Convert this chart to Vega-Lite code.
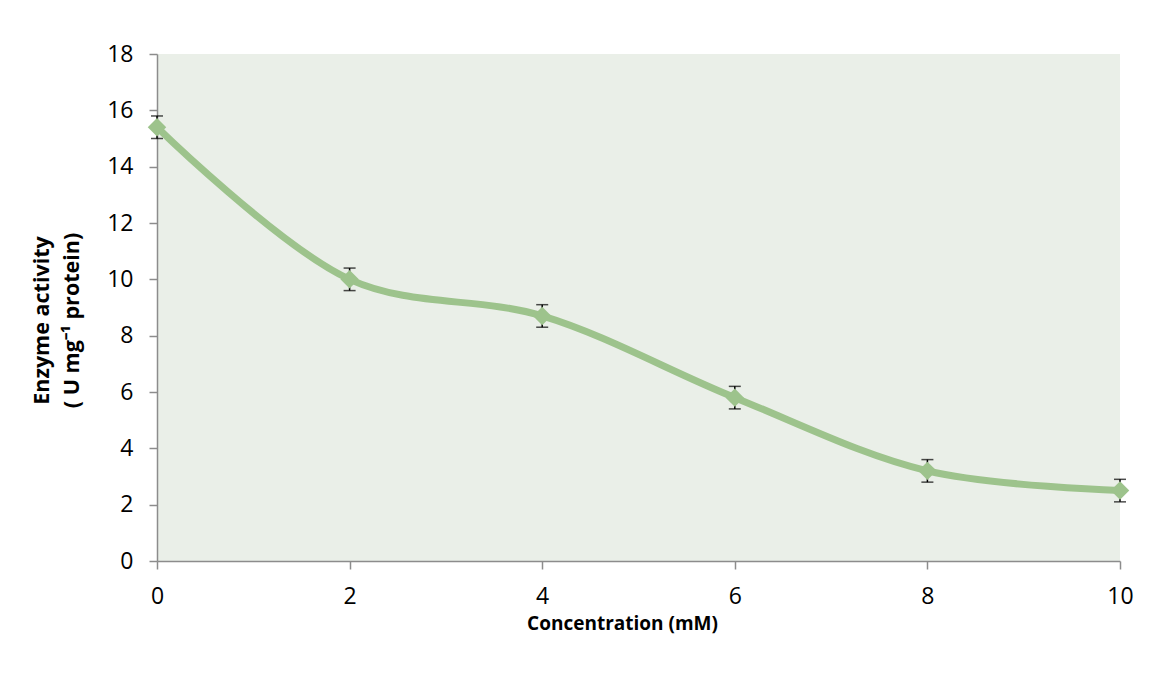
{
  "$schema": "https://vega.github.io/schema/vega-lite/v6.json",
  "width": 963,
  "height": 507,
  "autosize": {"type": "none"},
  "padding": {"left": 157, "top": 54, "right": 32, "bottom": 114},
  "background": "white",
  "config": {
    "view": {"fill": "#EAEFE8", "stroke": null},
    "font": "Open Sans"
  },
  "data": {
    "values": [
      {"c": 0, "activity": 15.4, "lo": 15.0, "hi": 15.8},
      {"c": 2, "activity": 10.0, "lo": 9.6, "hi": 10.4},
      {"c": 4, "activity": 8.7, "lo": 8.3, "hi": 9.1},
      {"c": 6, "activity": 5.8, "lo": 5.4, "hi": 6.2},
      {"c": 8, "activity": 3.2, "lo": 2.8, "hi": 3.6},
      {"c": 10, "activity": 2.5, "lo": 2.1, "hi": 2.9}
    ]
  },
  "encoding": {
    "x": {
      "field": "c",
      "type": "quantitative",
      "scale": {"domain": [0, 10], "nice": false},
      "axis": {
        "title": "Concentration (mM)",
        "values": [0, 2, 4, 6, 8, 10],
        "grid": false,
        "labelFlush": false,
        "domainColor": "#8C8C8C",
        "domainWidth": 1.5,
        "tickColor": "#8C8C8C",
        "tickSize": 8,
        "tickWidth": 1.5,
        "labelFont": "Open Sans",
        "labelFontSize": 23,
        "labelColor": "black",
        "labelPadding": 16,
        "titleFont": "Open Sans",
        "titleFontSize": 19,
        "titleFontWeight": "bold",
        "titleColor": "black",
        "titleX": 465,
        "titleAnchor": "middle",
        "titlePadding": 6
      }
    }
  },
  "layer": [
    {
      "mark": {"type": "errorbar", "color": "black", "thickness": 1.5, "ticks": {"size": 12, "color": "black", "thickness": 1.5}},
      "encoding": {
        "y": {"field": "lo", "type": "quantitative", "scale": {"domain": [0, 18], "nice": false},
          "axis": {
            "title": ["Enzyme activity", "( U mg⁻¹ protein)"],
            "values": [0, 2, 4, 6, 8, 10, 12, 14, 16, 18],
            "grid": false,
            "labelFlush": false,
            "domainColor": "#8C8C8C",
            "domainWidth": 1.5,
            "tickColor": "#8C8C8C",
            "tickSize": 8,
            "tickWidth": 1.5,
            "labelFont": "Open Sans",
            "labelFontSize": 23,
            "labelColor": "black",
            "labelPadding": 16,
            "titleFont": "Open Sans",
            "titleFontSize": 21.5,
            "titleFontWeight": "bold",
            "titleColor": "black",
            "titleX": -104,
            "titleY": 266,
            "titleLineHeight": 30,
            "titleBaseline": "bottom"
          }
        },
        "y2": {"field": "hi"}
      }
    },
    {
      "mark": {"type": "line", "color": "#9DC38C", "strokeWidth": 7, "interpolate": "catmull-rom"},
      "encoding": {"y": {"field": "activity", "type": "quantitative"}}
    },
    {
      "mark": {"type": "point", "shape": "diamond", "filled": true, "color": "#9DC38C", "size": 340, "opacity": 1},
      "encoding": {"y": {"field": "activity", "type": "quantitative"}}
    }
  ]
}
